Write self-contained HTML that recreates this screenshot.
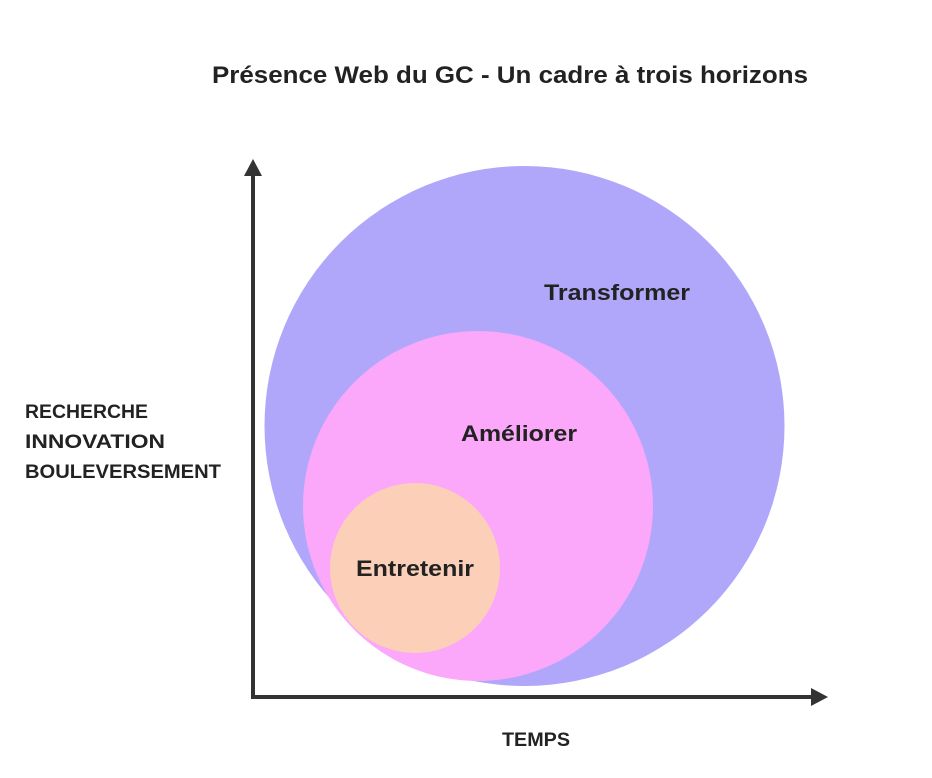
<!DOCTYPE html>
<html><head><meta charset="utf-8"><style>html,body{margin:0;padding:0;background:#fff}svg{display:block}</style></head>
<body>
<svg width="932" height="778" viewBox="0 0 932 778" xmlns="http://www.w3.org/2000/svg" font-family="Liberation Sans, sans-serif" font-weight="bold" fill="#222">
<rect width="932" height="778" fill="#fff"/>
<text x="212" y="83" font-size="24" textLength="596" lengthAdjust="spacingAndGlyphs">Présence Web du GC - Un cadre à trois horizons</text>
<circle cx="524.5" cy="426" r="260" fill="#b0a7fb"/>
<circle cx="478" cy="506" r="175" fill="#fba7fa"/>
<circle cx="415" cy="568" r="85" fill="#fcd0b8"/>
<text x="544" y="300" font-size="22" textLength="146" lengthAdjust="spacingAndGlyphs">Transformer</text>
<text x="461" y="441" font-size="22" textLength="116" lengthAdjust="spacingAndGlyphs">Améliorer</text>
<text x="356" y="576" font-size="22" textLength="118" lengthAdjust="spacingAndGlyphs">Entretenir</text>
<text x="25" y="418" font-size="19" textLength="123" lengthAdjust="spacingAndGlyphs">RECHERCHE</text>
<text x="25" y="448" font-size="19" textLength="140" lengthAdjust="spacingAndGlyphs">INNOVATION</text>
<text x="25" y="478" font-size="19" textLength="196" lengthAdjust="spacingAndGlyphs">BOULEVERSEMENT</text>
<text x="502" y="746" font-size="19" textLength="68" lengthAdjust="spacingAndGlyphs">TEMPS</text>
<g stroke="#333" stroke-width="4" fill="none">
<path d="M253 172 V697 H814"/>
</g>
<path d="M253 159 L262 176 L244 176 Z" fill="#333"/>
<path d="M828 697 L811 706 L811 688 Z" fill="#333"/>
</svg>
</body></html>
